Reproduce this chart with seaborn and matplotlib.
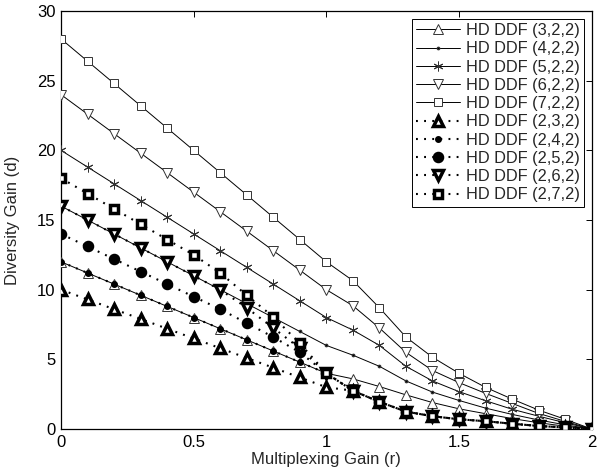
import numpy as np
import pandas as pd
import matplotlib
matplotlib.use("Agg")
import matplotlib.pyplot as plt
import seaborn as sns

# ---- data ----
r = [0.0, 0.1, 0.2, 0.3, 0.4, 0.5, 0.6, 0.7, 0.8, 0.9, 1.0,
     1.1, 1.2, 1.3, 1.4, 1.5, 1.6, 1.7, 1.8, 1.9, 2.0]

hd_322 = [12, 11.2, 10.4, 9.6, 8.8, 8.0, 7.2, 6.4, 5.6, 4.8, 4.0,
          3.6, 3.05, 2.45, 1.9, 1.45, 1.1, 0.75, 0.45, 0.2, 0]
hd_422 = [16, 15, 14, 13, 12, 11, 10, 9, 8, 7, 6,
          5.3, 4.5, 3.45, 2.65, 2.05, 1.5, 1.05, 0.65, 0.3, 0]
hd_522 = [20, 18.8, 17.6, 16.4, 15.2, 14, 12.8, 11.6, 10.4, 9.2, 8,
          7.1, 6.0, 4.5, 3.45, 2.68, 2.03, 1.42, 0.92, 0.45, 0]
hd_622 = [24, 22.6, 21.2, 19.8, 18.4, 17, 15.6, 14.2, 12.8, 11.4, 10,
          8.85, 7.25, 5.5, 4.2, 3.33, 2.56, 1.84, 1.12, 0.55, 0]
hd_722 = [28, 26.4, 24.8, 23.2, 21.6, 20, 18.4, 16.8, 15.2, 13.6, 12,
          10.65, 8.7, 6.6, 5.15, 4.0, 2.99, 2.15, 1.36, 0.7, 0]

hd_232 = [10, 9.3, 8.6, 7.9, 7.2, 6.5, 5.8, 5.1, 4.4, 3.7, 3.0,
          2.75, 1.95, 1.25, 0.92, 0.7, 0.56, 0.38, 0.22, 0.11, 0]
hd_242 = [12, 11.2, 10.4, 9.6, 8.8, 8.0, 7.2, 6.4, 5.6, 4.8, 4.0,
          2.75, 1.95, 1.25, 0.92, 0.7, 0.56, 0.38, 0.22, 0.11, 0]
hd_252 = [14, 13.1, 12.2, 11.3, 10.4, 9.5, 8.6, 7.6, 6.6, 5.5, 4.0,
          2.75, 1.95, 1.25, 0.92, 0.7, 0.56, 0.38, 0.22, 0.11, 0]
hd_262 = [16, 15, 14, 13, 12, 11, 10, 8.7, 7.25, 5.8, 4.0,
          2.75, 1.95, 1.25, 0.92, 0.7, 0.56, 0.38, 0.22, 0.11, 0]
hd_272 = [18, 16.9, 15.8, 14.7, 13.6, 12.5, 11.2, 9.6, 8.05, 6.15, 4.0,
          2.75, 1.95, 1.25, 0.92, 0.7, 0.56, 0.38, 0.22, 0.11, 0]

labels = ["HD DDF (3,2,2)", "HD DDF (4,2,2)", "HD DDF (5,2,2)",
          "HD DDF (6,2,2)", "HD DDF (7,2,2)",
          "HD DDF (2,3,2)", "HD DDF (2,4,2)", "HD DDF (2,5,2)",
          "HD DDF (2,6,2)", "HD DDF (2,7,2)"]
series = [hd_322, hd_422, hd_522, hd_622, hd_722,
          hd_232, hd_242, hd_252, hd_262, hd_272]

x_ticks = [0, 0.5, 1, 1.5, 2]
y_ticks = [0, 5, 10, 15, 20, 25, 30]

# ---- styling ----
sns.set_theme(style="white")
plt.rcParams["font.family"] = ["Liberation Sans", "DejaVu Sans"]
plt.rcParams["axes.edgecolor"] = "black"

fig = plt.figure(figsize=(6.07, 4.75), dpi=100)
ax = fig.add_axes([0.1005, 0.0968, 0.8743, 0.8800])

solid_styles = [
    dict(marker="^", ms=6.5, mfc="white"),
    dict(marker=".", ms=4, mfc="black"),
    dict(marker=(6, 2, 0), ms=7, mfc="none"),
    dict(marker="v", ms=6.5, mfc="white"),
    dict(marker="s", ms=5.8, mfc="white"),
]
dotted_styles = [
    dict(marker="^", ms=6.8, mfc="white"),
    dict(marker=".", ms=5, mfc="black"),
    dict(marker="o", ms=5.8, mfc="black"),
    dict(marker="v", ms=6.8, mfc="white"),
    dict(marker="s", ms=5.2, mfc="white"),
]

for i in range(5):
    df = pd.DataFrame({"r": r, "d": series[i]})
    st = solid_styles[i]
    sns.lineplot(data=df, x="r", y="d", ax=ax, color="black", lw=0.7,
                 linestyle="-", marker=st["marker"], ms=st["ms"],
                 mfc=st["mfc"], mec="#333333", mew=0.7, label=labels[i],
                 zorder=3)

for i in range(5):
    df = pd.DataFrame({"r": r, "d": series[5 + i]})
    st = dotted_styles[i]
    sns.lineplot(data=df, x="r", y="d", ax=ax, color="black", lw=1.5,
                 linestyle=(0, (0.9, 3.0)), marker=st["marker"], ms=st["ms"],
                 mfc=st["mfc"], mec="black", mew=2.5, label=labels[5 + i],
                 zorder=4)

ax.set_xlim(0, 2)
ax.set_ylim(0, 30)
ax.set_xticks(x_ticks)
ax.set_xticklabels(["0", "0.5", "1", "1.5", "2"])
ax.set_yticks(y_ticks)
ax.set_yticklabels([str(v) for v in y_ticks])
ax.tick_params(direction="in", top=True, right=True, length=4.5, width=0.7,
               labelsize=12, colors="black", pad=4)
for sp in ax.spines.values():
    sp.set_linewidth(0.9)
    sp.set_color("black")
    sp.set_visible(True)
ax.grid(False)
ax.set_xlabel("Multiplexing Gain (r)", fontsize=12, labelpad=2)
ax.set_ylabel("Diversity Gain (d)", fontsize=12, labelpad=12)

leg = ax.legend(loc="upper right", fontsize=11.8, frameon=True, fancybox=False,
                edgecolor="black", framealpha=1, handlelength=2.7,
                labelspacing=0.2, borderpad=0.25, handletextpad=0.35,
                borderaxespad=0.48, numpoints=1)
leg.get_frame().set_linewidth(0.7)

fig.savefig("out.png", dpi=100)
